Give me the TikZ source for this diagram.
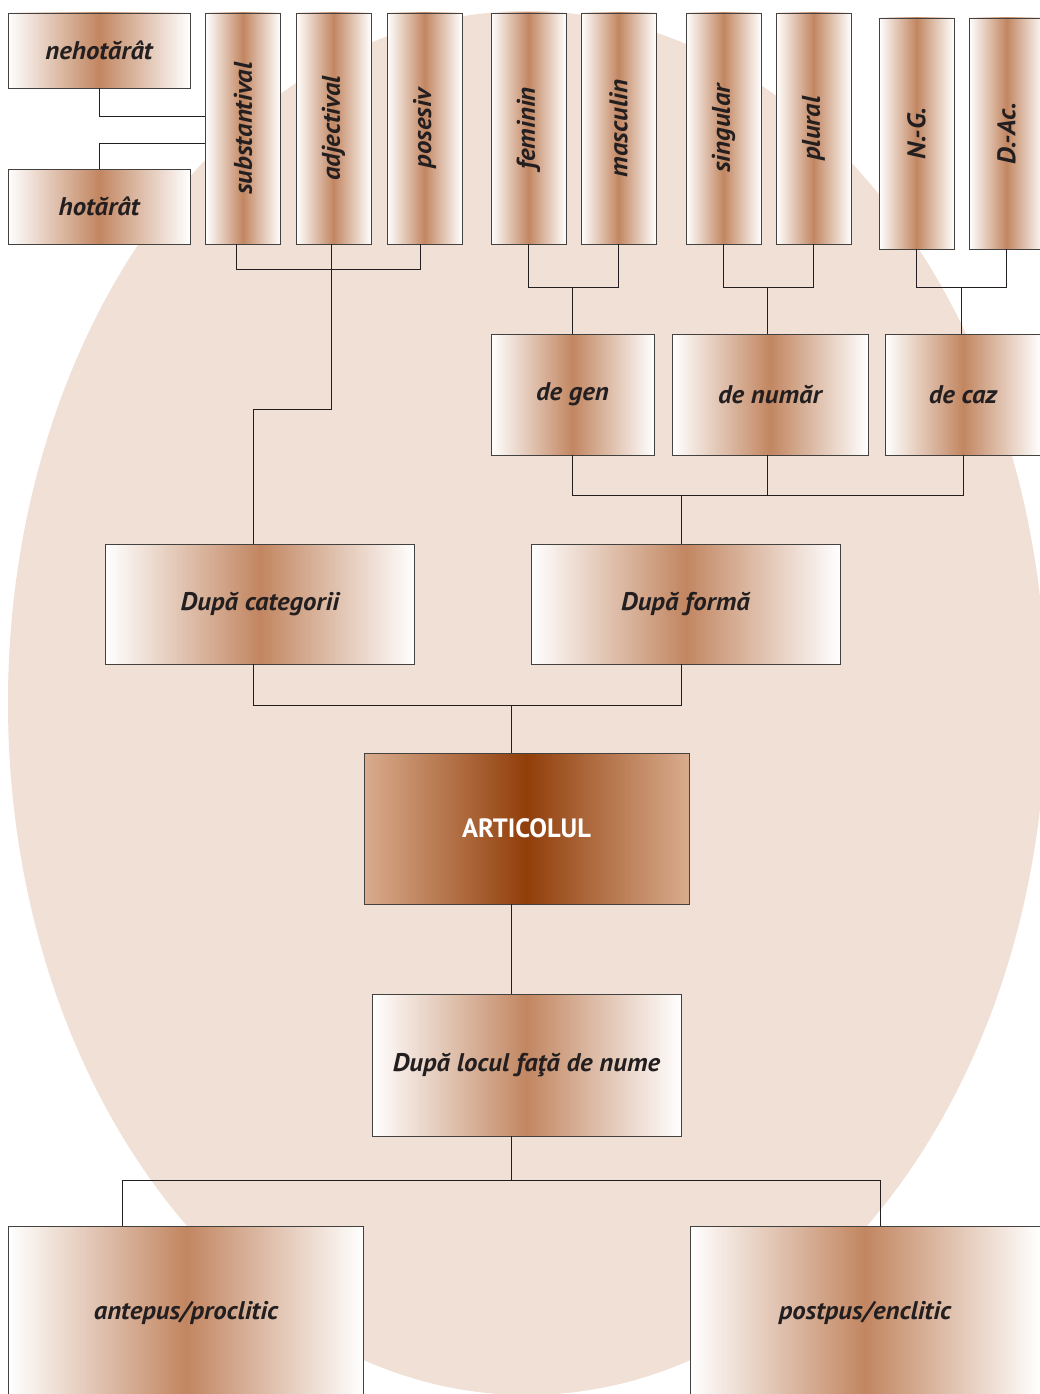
\documentclass[tikz,border=0pt]{standalone}
\usepackage{fontspec}
\usepackage{graphicx}
\usepackage{tikz}
\usetikzlibrary{calc}
\setmainfont{PT Sans}
\newfontfamily\boxfont[FakeStretch=1.05]{PT Sans}
\definecolor{peachbg}{RGB}{240,224,213}
\definecolor{copper}{RGB}{194,134,97}
\definecolor{rootdark}{RGB}{145,62,10}
\definecolor{roottan}{RGB}{217,172,142}
\definecolor{inkgray}{RGB}{35,31,32}
\newcommand{\vlabel}[1]{\rotatebox{90}{#1}}

\begin{document}
\begin{tikzpicture}[
    x=1pt, y=-1pt,
    cell/.style={draw=inkgray!85, line width=0.9pt, left color=white, right color=white, middle color=copper, inner sep=0pt, text=inkgray, font=\boxfont\fontsize{25.5}{30}\selectfont\bfseries\itshape},
    tall/.style={cell, minimum width=75pt, minimum height=231pt},
    root/.style={draw=inkgray!85, line width=0.9pt, left color=roottan, right color=roottan, middle color=rootdark, inner sep=0pt, text=white, minimum width=325pt, minimum height=151pt, font=\fontsize{26.5}{30}\selectfont\bfseries},
    link/.style={draw=inkgray, line width=0.8pt}
]
    % Background
    \path[use as bounding box, fill=white] (0,0) rectangle (1040,1394);
    \fill[peachbg] (527,703) ellipse [x radius=519pt, y radius=692pt];

    % Top row
    \node[cell, minimum width=182pt, minimum height=75pt] (nehot) at (99,50.5) {nehotărât};
    \node[cell, minimum width=182pt, minimum height=75pt] (hotar) at (99,206.5) {hotărât};
    \node[tall] (subst) at (243,128.5) {\vlabel{substantival}};
    \node[tall] (adj) at (333.5,128.5) {\vlabel{adjectival}};
    \node[tall] (poses) at (424.5,128.5) {\vlabel{posesiv}};
    \node[tall] (fem) at (528.5,128.5) {\vlabel{feminin}};
    \node[tall] (masc) at (618.5,128.5) {\vlabel{masculin}};
    \node[tall] (sing) at (723.5,128.5) {\vlabel{singular}};
    \node[tall] (plur) at (813.5,128.5) {\vlabel{plural}};
    \node[tall] (ng) at (916.5,133.5) {\vlabel{N.-G.}};
    \node[tall] (dac) at (1006.5,133.5) {\vlabel{D.-Ac.}};

    % Gen, numar, caz
    \node[cell, minimum width=163pt, minimum height=121pt] (degen) at (572.5,394.5) {de gen};
    \node[cell, minimum width=196pt, minimum height=121pt] (denum) at (770,394.5) {de număr};
    \node[cell, minimum width=156pt, minimum height=121pt] (decaz) at (963,394.5) {de caz};

    % Criteria
    \node[cell, minimum width=309pt, minimum height=120pt] (cat) at (260,604) {După categorii};
    \node[cell, minimum width=309pt, minimum height=120pt] (forma) at (685.5,604) {După formă};
    \node[root] (art) at (526.5,828.5) {ARTICOLUL};
    \node[cell, minimum width=309pt, minimum height=142pt] (locul) at (526.5,1065) {După locul faţă de nume};

    % Bottom row
    \node[cell, minimum width=355pt, minimum height=174pt] (ante) at (186,1313) {antepus/proclitic};
    \node[cell, minimum width=350pt, minimum height=174pt] (post) at (865,1313) {postpus/enclitic};

    % Junctions
    \coordinate (catbar) at ($(adj.south)+(0,25)$);
    \coordinate (genbar) at ($(fem.south)!0.5!(masc.south)+(0,43)$);
    \coordinate (numbar) at ($(sing.south)!0.5!(plur.south)+(0,43)$);
    \coordinate (cazbar) at ($(ng.south)!0.5!(dac.south)+(0,38)$);
    \coordinate (formbar) at ($(forma.north)+(-4,-48)$);
    \coordinate (artbar) at ($(art.north)+(-15,-47)$);
    \coordinate (locbar) at ($(locul.south)+(-15,44)$);

    % Connectors
    \draw[link] (nehot.south) |- ($(subst.west)+(0,-12.5)$);
    \draw[link] (hotar.north) |- ($(subst.west)+(0,14.5)$);
    \draw[link] ($(subst.south)+(-7,0)$) |- (catbar) -| ($(poses.south)+(-4,0)$);
    \draw[link] ($(adj.south)+(-2,0)$) -- ++(0,165) -| ($(cat.north)+(-7,0)$);
    \draw[link] (fem.south) |- (genbar) -| (masc.south);
    \draw[link] (degen.north |- genbar) -- (degen.north);
    \draw[link] (sing.south) |- (numbar) -| (plur.south);
    \draw[link] ($(denum.north)+(-3,0)$) -- ++(0,-47);
    \draw[link] (ng.south) |- (cazbar) -| (dac.south);
    \draw[link] ($(decaz.north)+(-2,0)$) -- ++(0,-47);
    \draw[link] (degen.south) |- (formbar) -| (decaz.south);
    \draw[link] ($(denum.south)+(-3,0)$) -- ++(0,41);
    \draw[link] (formbar) -- (formbar |- forma.north);
    \draw[link] ($(cat.south)+(-7,0)$) |- (artbar) -| ($(forma.south)+(-4,0)$);
    \draw[link] (artbar) -- (artbar |- art.north);
    \draw[link] ($(art.south)+(-15,0)$) -- ($(locul.north)+(-15,0)$);
    \draw[link] ($(locul.south)+(-15,0)$) -- (locbar);
    \draw[link] ($(ante.north)+(-64,0)$) |- (locbar) -| ($(post.north)+(15,0)$);
\end{tikzpicture}
\end{document}
